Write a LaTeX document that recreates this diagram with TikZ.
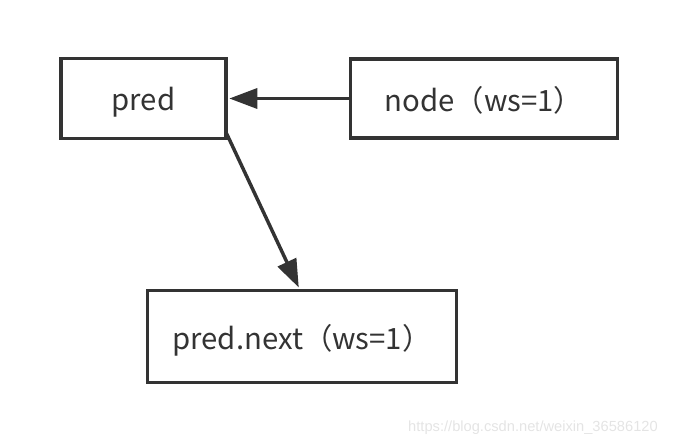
\documentclass[tikz,border=0pt]{standalone}
\usepackage{fontspec}
\setmainfont{Noto Sans CJK SC}
\newfontfamily\markfont{Liberation Sans}
\usetikzlibrary{arrows.meta}

\begin{document}
\begin{tikzpicture}[x=0.75pt,y=0.75pt,yscale=-1,xscale=1,
  listbox/.style={draw={rgb,255:red,51;green,51;blue,51}, line width=2.7pt, fill=white,
    inner sep=0pt, text depth=0pt, font=\fontsize{22}{26}\selectfont, text={rgb,255:red,51;green,51;blue,51}},
  pointer/.style={draw={rgb,255:red,51;green,51;blue,51}, line width=2.6pt,
    -{Triangle[length=21pt,width=15pt]}, shorten >=1pt}]
\useasboundingbox (0,0) rectangle (679,445);

% Text Node
\node [listbox, minimum width=124pt, minimum height=60pt] (pred) at (143.5,98.5) {pred};
% Text Node
\node [listbox, minimum width=200pt, minimum height=59pt] (node) at (484,98.5) {node（ws=1）};
% Text Node
\node [listbox, minimum width=232pt, minimum height=69pt] (next) at (302,336.5) {pred.next（ws=1）};

% Straight Lines
\draw [pointer] (node.west) -- (pred.east);
% Straight Lines
\draw [pointer] ([xshift=-1pt,yshift=-5pt]pred.south east) -- ([xshift=-2pt]next.north);

% watermark
\node [font=\markfont\fontsize{11}{13}\selectfont, text={rgb,255:red,228;green,228;blue,228}, inner sep=0pt] (mark) at (533,428) {https://blog.csdn.net/weixin\_36586120};

\end{tikzpicture}
\end{document}
